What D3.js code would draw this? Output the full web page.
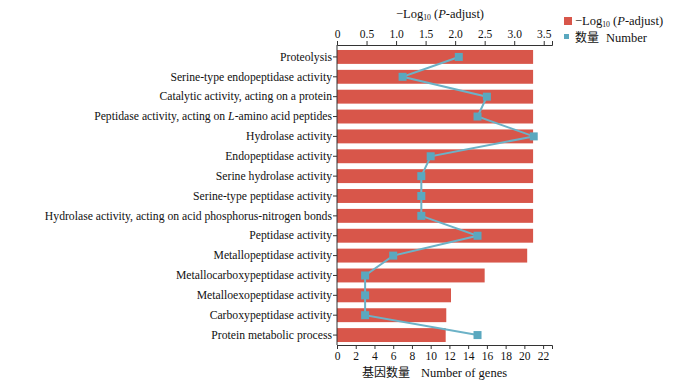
<!DOCTYPE html>
<html><head><meta charset="utf-8">
<script src="https://cdn.jsdelivr.net/npm/d3@7"></script>
<style>
body{margin:0;background:#fff;}
svg{display:block;font-family:"Liberation Serif","Times New Roman",serif;}
</style></head>
<body><svg id="c" width="700" height="382"></svg>
<script>
const categories = [
  "Proteolysis",
  "Serine-type endopeptidase activity",
  "Catalytic activity, acting on a protein",
  "Peptidase activity, acting on L-amino acid peptides",
  "Hydrolase activity",
  "Endopeptidase activity",
  "Serine hydrolase activity",
  "Serine-type peptidase activity",
  "Hydrolase activity, acting on acid phosphorus-nitrogen bonds",
  "Peptidase activity",
  "Metallopeptidase activity",
  "Metallocarboxypeptidase activity",
  "Metalloexopeptidase activity",
  "Carboxypeptidase activity",
  "Protein metabolic process"
];
const logP = [3.32,3.32,3.32,3.32,3.32,3.32,3.32,3.32,3.32,3.32,3.22,2.50,1.93,1.85,1.84];
const geneCounts = [13,7,16,15,21,10,9,9,9,15,6,3,3,3,15];
const topTicks = [0,0.5,1.0,1.5,2.0,2.5,3.0,3.5];
const bottomTicks = [0,2,4,6,8,10,12,14,16,18,20,22];

const svg = d3.select("#c");
const L = 337, R = 552, T = 47, B = 345;
const barColor = "#d8564a", lineColor = "#6cb2c7", markColor = "#5aa8bf";
const FF = "Liberation Serif, Times New Roman, serif";
const CJK = "Noto Sans CJK SC";

const xTop = d3.scaleLinear().domain([0,3.64]).range([L,R]);
const xBot = d3.scaleLinear().domain([0,22.95]).range([L,R]);
const y = d3.scaleBand().domain(categories).range([T,B]).paddingInner(0.3).paddingOuter(0.15);

// bars
svg.append("g").selectAll("rect").data(categories).join("rect")
  .attr("x", xTop(0)).attr("y", d=>y(d))
  .attr("width", (d,i)=>xTop(logP[i])-xTop(0)).attr("height", y.bandwidth())
  .attr("fill", barColor);

// line
const pts = categories.map((c,i)=>[xBot(geneCounts[i]), y(c)+y.bandwidth()/2]);
svg.append("path").attr("d", d3.line()(pts)).attr("fill","none")
  .attr("stroke", lineColor).attr("stroke-width",2);
svg.append("g").selectAll("rect").data(pts).join("rect")
  .attr("x", d=>d[0]-4).attr("y", d=>d[1]-4).attr("width",8).attr("height",8)
  .attr("fill", markColor);

// axes
const fmtTop = d => d===0 ? "0" : d3.format(".1f")(d);
const gTop = svg.append("g").attr("transform",`translate(0,${T-2})`)
  .call(d3.axisTop(xTop).tickValues(topTicks).tickFormat(fmtTop).tickSize(4).tickSizeOuter(4));
const gBot = svg.append("g").attr("transform",`translate(0,${B})`)
  .call(d3.axisBottom(xBot).tickValues(bottomTicks).tickSize(4).tickSizeOuter(4));
const gLeft = svg.append("g").attr("transform",`translate(${L},0)`)
  .call(d3.axisLeft(y).tickSize(4).tickSizeOuter(0));
gLeft.select(".domain").attr("d", `M0,${T-2}V${B}`);
[gTop,gBot,gLeft].forEach(g=>{
  g.attr("font-family", FF);
  g.selectAll("text").attr("font-family",FF).attr("font-size",11.5).attr("fill","#111");
  g.selectAll("line,path").attr("stroke","#333");
});
gLeft.selectAll(".tick text").attr("font-size",11.7).attr("x",-5).each(function(d){
  const t = d3.select(this);
  if (d.includes("L-amino")) {
    t.text(null);
    t.append("tspan").text("Peptidase activity, acting on ");
    t.append("tspan").attr("font-style","italic").text("L");
    t.append("tspan").text("-amino acid peptides");
  }
});

// axis titles
function logTitle(g, x, y, anchor, size){
  const t = g.append("text").attr("x",x).attr("y",y).attr("text-anchor",anchor)
    .attr("font-family",FF).attr("font-size",size).attr("fill","#111");
  t.append("tspan").text("\u2212Log");
  t.append("tspan").attr("font-size",size*0.62).attr("dy",2).text("10");
  t.append("tspan").attr("dy",-2).text(" (");
  t.append("tspan").attr("font-style","italic").text("P");
  t.append("tspan").text("-adjust)");
  return t;
}
logTitle(svg, 440, 18, "middle", 12.5);
svg.append("text").attr("x",362).attr("y",377)
  .attr("font-family",CJK).attr("font-size",12).attr("fill","#111").text("基因数量");
svg.append("text").attr("x",421).attr("y",377)
  .attr("font-family",FF).attr("font-size",12.5).attr("fill","#111").text("Number of genes");

// legend
svg.append("rect").attr("x",564).attr("y",17).attr("width",8).attr("height",8).attr("fill",barColor);
logTitle(svg, 575, 25, "start", 12.5);
svg.append("rect").attr("x",564).attr("y",34).attr("width",5).attr("height",5).attr("fill",markColor);
svg.append("text").attr("x",575).attr("y",42).attr("font-family",CJK).attr("font-size",12).attr("fill","#111").text("数量");
svg.append("text").attr("x",606).attr("y",42).attr("font-family",FF).attr("font-size",12.5).attr("fill","#111").text("Number");
</script></body></html>
